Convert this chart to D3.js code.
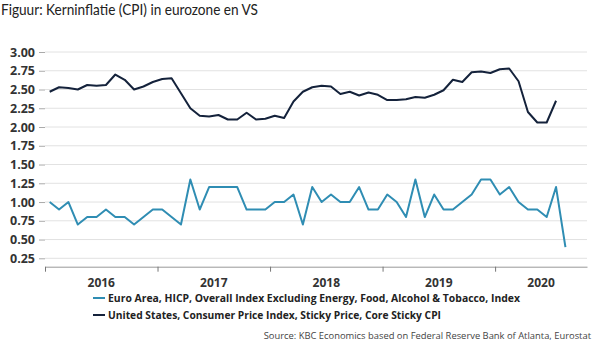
<!DOCTYPE html>
<html>
<head>
<meta charset="utf-8">
<script src="https://cdn.jsdelivr.net/npm/d3@7"></script>
<style>
    body { margin: 0; background: #fff; }
    svg { display: block; }
</style>
</head>
<body>
<div class="static-image"></div>
<script>
var years = ["2016", "2017", "2018", "2019", "2020"];
var yTicks = [0.25, 0.5, 0.75, 1.0, 1.25, 1.5, 1.75, 2.0, 2.25, 2.5, 2.75, 3.0];
// maandwaarden vanaf jan 2016
var euroValues = [
    1.0, 0.9, 1.0, 0.7, 0.8, 0.8, 0.9, 0.8, 0.8, 0.7, 0.8, 0.9,
    0.9, 0.8, 0.7, 1.3, 0.9, 1.2, 1.2, 1.2, 1.2, 0.9, 0.9, 0.9,
    1.0, 1.0, 1.1, 0.7, 1.2, 1.0, 1.1, 1.0, 1.0, 1.2, 0.9, 0.9,
    1.1, 1.0, 0.8, 1.3, 0.8, 1.1, 0.9, 0.9, 1.0, 1.1, 1.3, 1.3,
    1.1, 1.2, 1.0, 0.9, 0.9, 0.8, 1.2, 0.4
];
var usValues = [
    2.47, 2.53, 2.52, 2.50, 2.56, 2.55, 2.56, 2.70, 2.63, 2.50, 2.54, 2.60,
    2.64, 2.65, 2.45, 2.25, 2.15, 2.14, 2.16, 2.10, 2.10, 2.19, 2.10, 2.11,
    2.15, 2.12, 2.34, 2.47, 2.53, 2.55, 2.54, 2.44, 2.47, 2.42, 2.46, 2.43,
    2.36, 2.36, 2.37, 2.40, 2.39, 2.43, 2.49, 2.63, 2.60, 2.73, 2.74, 2.72,
    2.77, 2.78, 2.61, 2.20, 2.06, 2.06, 2.35
];
var seriesNames = [
    "Euro Area, HICP, Overall Index Excluding Energy, Food, Alcohol & Tobacco, Index",
    "United States, Consumer Price Index, Sticky Price, Core Sticky CPI"
];
var seriesColors = ["#2f8db3", "#14223b"];

var width = 596;
var height = 346;
var plot = {
    "left": 45,
    "right": 587,
    "top": 52,
    "bottom": 258.3,
    "axis": 266.7
};
var fontFam = "'Open Sans', 'DejaVu Sans', sans-serif";

var x = d3.scaleLinear().domain([0, 57.8]).range([plot.left, plot.right]);
var y = d3.scaleLinear().domain([0.25, 3.0]).range([plot.bottom, plot.top]);

var svg = d3.select(".static-image")
    .append("svg")
    .attr("width", width)
    .attr("height", height);

// titel
svg.append("text")
    .attr("x", 1)
    .attr("y", 15)
    .attr("font-family", "Lato, 'Open Sans', sans-serif")
    .attr("font-size", 15)
    .attr("fill", "#222")
    .attr("textLength", 257)
    .attr("lengthAdjust", "spacingAndGlyphs")
    .text("Figuur: Kerninflatie (CPI) in eurozone en VS");

// rasterlijnen + y-as
var yAxis = d3.axisLeft(y)
    .tickValues(yTicks)
    .tickFormat(d3.format(".2f"))
    .tickSize(6)
    .tickPadding(4);
var gy = svg.append("g")
    .attr("transform", "translate(" + plot.left + ",0)")
    .call(yAxis);
gy.select(".domain").remove();
gy.selectAll(".tick line").attr("stroke", "#aaa");
gy.selectAll(".tick text")
    .attr("font-family", fontFam)
    .attr("font-size", 12.5)
    .attr("font-weight", "bold")
    .attr("fill", "#333");

svg.append("g")
    .selectAll("line")
    .data(yTicks)
    .enter()
    .append("line")
    .attr("x1", plot.left)
    .attr("x2", plot.right)
    .attr("y1", function (d) { return y(d); })
    .attr("y2", function (d) { return y(d); })
    .attr("stroke", "#e2e2e2")
    .attr("stroke-width", 1);

// x-as
var xAxis = d3.axisBottom(x)
    .tickValues([0, 12, 24, 36, 48])
    .tickFormat("")
    .tickSize(5)
    .tickSizeOuter(0);
var gx = svg.append("g")
    .attr("transform", "translate(0," + plot.axis + ")")
    .call(xAxis);
gx.select(".domain").attr("stroke", "#999");
gx.selectAll(".tick line").attr("stroke", "#777");

svg.append("g")
    .selectAll("text")
    .data(years)
    .enter()
    .append("text")
    .attr("x", function (d, i) {
        var end = i < years.length - 1 ? (i + 1) * 12 : x.domain()[1];
        return x((i * 12 + end) / 2);
    })
    .attr("y", 287)
    .attr("text-anchor", "middle")
    .attr("font-family", fontFam)
    .attr("font-size", 12)
    .attr("font-weight", "bold")
    .attr("fill", "#333")
    .text(function (d) { return d; });

// lijnen
var line = d3.line()
    .x(function (d, i) { return x(i + 0.5); })
    .y(function (d) { return y(d); });

svg.selectAll(".serie")
    .data([euroValues, usValues])
    .enter()
    .append("path")
    .classed("serie", true)
    .attr("d", line)
    .attr("fill", "none")
    .attr("stroke", function (d, i) { return seriesColors[i]; })
    .attr("stroke-width", 2)
    .attr("stroke-linejoin", "round");

// legenda
var legend = svg.append("g")
    .selectAll("g")
    .data(seriesNames)
    .enter()
    .append("g")
    .attr("transform", function (d, i) {
        return "translate(93," + (298 + i * 17) + ")";
    });
legend.append("line")
    .attr("x1", 0)
    .attr("x2", 12)
    .attr("stroke", function (d, i) { return seriesColors[i]; })
    .attr("stroke-width", 2);
legend.append("text")
    .attr("x", 15)
    .attr("y", 4)
    .attr("font-family", fontFam)
    .attr("font-size", 11)
    .attr("font-weight", "bold")
    .attr("fill", "#222")
    .attr("textLength", function (d, i) { return i == 0 ? 412 : 333; })
    .attr("lengthAdjust", "spacingAndGlyphs")
    .text(function (d) { return d; });

// bron
svg.append("text")
    .attr("x", 591)
    .attr("y", 339)
    .attr("text-anchor", "end")
    .attr("font-family", fontFam)
    .attr("font-size", 9.4)
    .attr("fill", "#444")
    .text("Source: KBC Economics based on Federal Reserve Bank of Atlanta, Eurostat");
</script>
</body>
</html>
